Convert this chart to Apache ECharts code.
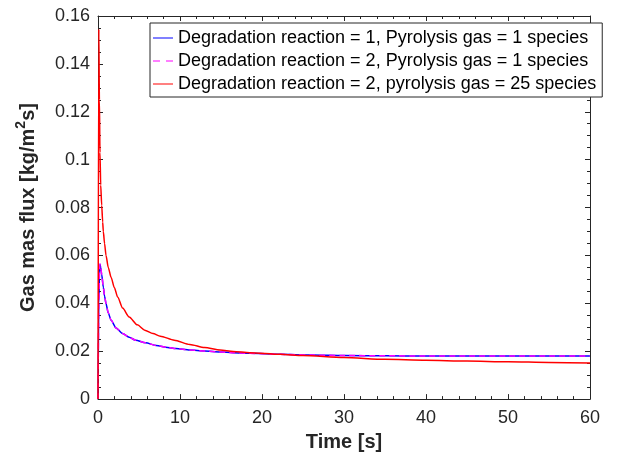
<!DOCTYPE html>
<html>
<head>
<meta charset="utf-8">
<script src="https://cdn.jsdelivr.net/npm/echarts@6/dist/echarts.min.js"></script>
<style>
html,body{margin:0;padding:0;background:#fff;}
#chart{width:630px;height:457px;}
</style>
</head>
<body>
<div id="chart"></div>
<script>
// ---- data ----
var seriesNames = [
  'Degradation reaction = 1, Pyrolysis gas = 1 species',
  'Degradation reaction = 2, Pyrolysis gas = 1 species',
  'Degradation reaction = 2, pyrolysis gas = 25 species'
];
var timeBlue = [0, 0.1, 0.18, 0.24, 0.33, 0.45, 0.65, 0.8, 0.98, 1.25, 1.6, 2.2, 3.0, 3.8, 4.6, 5.8, 7.1, 8.5, 9.5, 11.2, 13, 14.9, 16.5, 18.5, 22.2, 26, 30, 35, 40, 45, 50, 55, 60];
var fluxBlue = [0, 0.040, 0.053, 0.0563, 0.055, 0.052, 0.0467, 0.043, 0.0398, 0.036, 0.0329, 0.0297, 0.0274, 0.0258, 0.0246, 0.0235, 0.0224, 0.0216, 0.0211, 0.0205, 0.0201, 0.0197, 0.0194, 0.0191, 0.0187, 0.0184, 0.0182, 0.0181, 0.0180, 0.0180, 0.0180, 0.0180, 0.0180];
var timeMag = [0, 0.1, 0.18, 0.24, 0.33, 0.45, 0.65, 0.8, 0.98, 1.25, 1.6, 2.2, 3.0, 3.8, 4.6, 5.8, 7.1, 8.5, 9.5, 11.2, 13, 14.9, 16.5, 18.5, 22.2, 26, 30, 35, 40, 45, 50, 55, 60];
var fluxMag = [0, 0.040, 0.053, 0.0564, 0.0551, 0.0521, 0.0468, 0.0431, 0.0399, 0.0361, 0.0329, 0.0297, 0.0274, 0.0258, 0.0246, 0.0235, 0.0224, 0.0216, 0.0211, 0.0205, 0.0201, 0.0197, 0.0194, 0.0191, 0.0187, 0.0184, 0.0182, 0.0181, 0.0180, 0.0180, 0.0180, 0.0180, 0.0180];
var timeRed = [0, 0.1, 0.17, 0.24, 0.33, 0.45, 0.57, 0.65, 0.8, 0.98, 1.25, 1.6, 2.0, 2.4, 3.0, 3.8, 4.8, 5.7, 6.7, 7.6, 9.3, 11.2, 13, 14.9, 16.5, 18.5, 22.2, 25, 30, 35, 40, 45, 50, 55, 60];
var fluxRed = [0, 0.1545, 0.125, 0.103, 0.0894, 0.081, 0.074, 0.070, 0.065, 0.060, 0.055, 0.0508, 0.0465, 0.0426, 0.038, 0.0343, 0.031, 0.0288, 0.0274, 0.0263, 0.0246, 0.0228, 0.0215, 0.0205, 0.0199, 0.0194, 0.0187, 0.0182, 0.0174, 0.0166, 0.0162, 0.0159, 0.0156, 0.0153, 0.0151];
var xTicks = {min: 0, max: 60, interval: 10};
var yTicks = {min: 0, max: 0.16, interval: 0.02};

function pairs(t, v) { return t.map(function (x, i) { return [x, v[i]]; }); }

var axisCol = '#262626';
var solidIcon = 'path://M0,0h20v1h-20z';
var dashIcon = 'path://M0,0h7v1h-7zM13,0h7v1h-7z';
var chart = echarts.init(document.getElementById('chart'));
var baseX = {
  type: 'value', min: xTicks.min, max: xTicks.max, interval: xTicks.interval,
  axisLine: {show: true, onZero: false, lineStyle: {color: axisCol, width: 1}},
  axisTick: {show: true, inside: true, length: 5, lineStyle: {color: axisCol}},
  minorTick: {show: true, splitNumber: 5, length: 3, lineStyle: {color: axisCol}},
  splitLine: {show: false}
};
var baseY = {
  type: 'value', min: yTicks.min, max: yTicks.max, interval: yTicks.interval,
  axisLine: {show: true, onZero: false, lineStyle: {color: axisCol, width: 1}},
  axisTick: {show: true, inside: true, length: 5, lineStyle: {color: axisCol}},
  minorTick: {show: true, splitNumber: 4, length: 3, lineStyle: {color: axisCol}},
  splitLine: {show: false}
};
var option = {
  backgroundColor: '#ffffff',
  animation: false,
  grid: {left: 98, right: 40, top: 16, bottom: 54},
  xAxis: [
    Object.assign({}, baseX, {
      position: 'bottom',
      name: 'Time [s]', nameLocation: 'middle', nameGap: 28,
      nameTextStyle: {fontFamily: 'Liberation Sans', fontSize: 20, fontWeight: 'bold', color: axisCol},
      axisLabel: {fontFamily: 'Liberation Sans', fontSize: 18, color: axisCol, margin: 10}
    }),
    Object.assign({}, baseX, {position: 'top', axisLabel: {show: false}})
  ],
  yAxis: [
    Object.assign({}, baseY, {
      position: 'left',
      name: '{a|Gas mas flux [kg/m}{s|2}{a|s]}', nameLocation: 'middle', nameGap: 60, nameRotate: 90,
      nameTextStyle: {
        fontFamily: 'Liberation Sans', fontSize: 20, fontWeight: 'bold', color: axisCol,
        rich: {
          a: {fontFamily: 'Liberation Sans', fontSize: 20, fontWeight: 'bold', color: axisCol, lineHeight: 24, verticalAlign: 'bottom'},
          s: {fontFamily: 'Liberation Sans', fontSize: 14, fontWeight: 'bold', color: axisCol, lineHeight: 24, verticalAlign: 'top'}
        }
      },
      axisLabel: {fontFamily: 'Liberation Sans', fontSize: 18, color: axisCol, margin: 8}
    }),
    Object.assign({}, baseY, {position: 'right', axisLabel: {show: false}})
  ],
  legend: {
    orient: 'vertical', left: 150, top: 23,
    backgroundColor: '#ffffff', borderColor: axisCol, borderWidth: 1, borderRadius: 0,
    padding: [5, 6, 3, 3], itemGap: 3, itemWidth: 20, itemHeight: 1.5,
    textStyle: {fontFamily: 'Liberation Sans', fontSize: 18, lineHeight: 20, color: '#000'},
    data: [
      {name: seriesNames[0], icon: solidIcon, itemStyle: {color: '#0000ff'}},
      {name: seriesNames[1], icon: dashIcon, itemStyle: {color: '#ff00ff'}},
      {name: seriesNames[2], icon: solidIcon, itemStyle: {color: '#ff0000'}}
    ]
  },
  series: [
    {name: seriesNames[0], type: 'line', data: pairs(timeBlue, fluxBlue), symbol: 'none', smooth: 0.25, smoothMonotone: 'x',
      lineStyle: {color: '#0000ff', width: 1.5}, itemStyle: {color: '#0000ff'}},
    {name: seriesNames[1], type: 'line', data: pairs(timeMag, fluxMag), symbol: 'none', smooth: 0.25, smoothMonotone: 'x',
      lineStyle: {color: '#ff00ff', width: 1.5, type: [6, 4]}, itemStyle: {color: '#ff00ff'}},
    {name: seriesNames[2], type: 'line', data: pairs(timeRed, fluxRed), symbol: 'none', smooth: 0.25, smoothMonotone: 'x',
      lineStyle: {color: '#ff0000', width: 1.5}, itemStyle: {color: '#ff0000'}}
  ]
};
chart.setOption(option);
</script>
</body>
</html>
